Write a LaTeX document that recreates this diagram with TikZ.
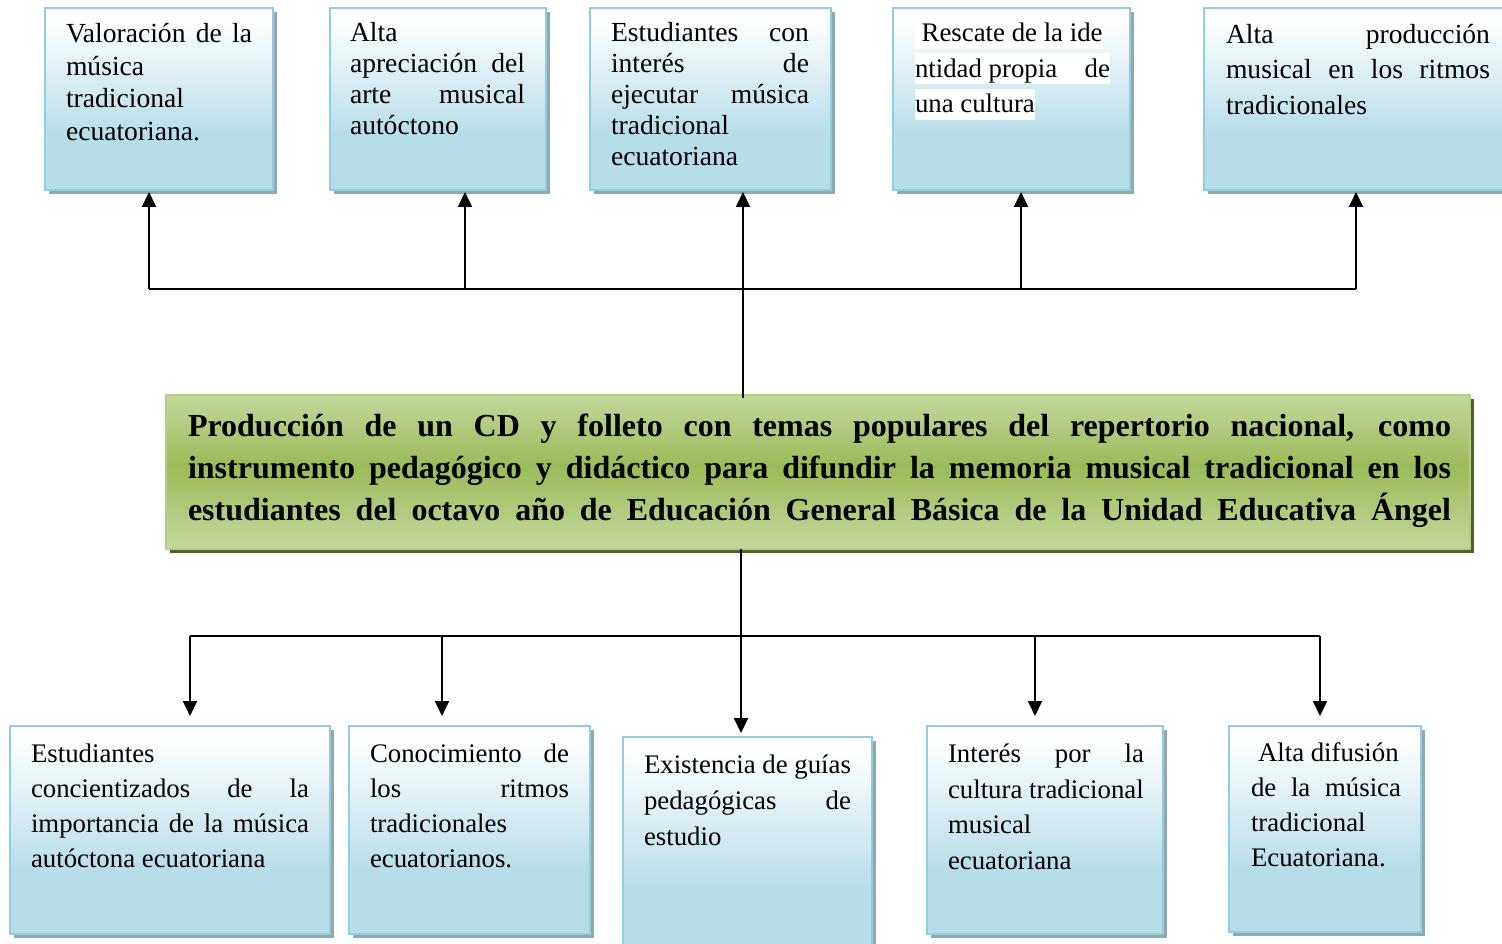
\documentclass[tikz,border=0pt]{standalone}
\usepackage{fontspec}
\setmainfont{Liberation Serif}
\usetikzlibrary{arrows.meta,shadows}
\definecolor{bxblue}{HTML}{B7DDE8}
\definecolor{bxborder}{HTML}{93CDDD}
\definecolor{bxshadow}{HTML}{8FA8B2}
\definecolor{glight}{HTML}{C4D79D}
\definecolor{gdark}{HTML}{9BBB59}
\definecolor{gborder}{HTML}{B5CD85}
\definecolor{gshadow}{HTML}{4F6228}
\pgfdeclareverticalshading{blueshade}{100bp}{color(0bp)=(bxblue); color(25bp)=(bxblue); color(40bp)=(bxblue); color(72bp)=(white); color(100bp)=(white)}
\pgfdeclareverticalshading{greenshade}{100bp}{color(0bp)=(glight); color(25bp)=(glight); color(52bp)=(gdark); color(75bp)=(glight); color(100bp)=(glight)}
\newcommand{\jl}[1]{\makebox[\linewidth][s]{\spaceskip=0pt\xspaceskip=0pt #1}}
\newcommand{\hlstrut}{\rule[-7pt]{0pt}{31pt}}
\setlength{\parindent}{0pt}
\begin{document}
\begin{tikzpicture}[x=1pt,y=-1pt,
  bluebox/.style={draw=bxborder, line width=1.6pt, shade, shading=blueshade,
    drop shadow={shadow xshift=3.5pt, shadow yshift=-4pt, fill=bxshadow, opacity=1},
    inner sep=0pt, outer sep=0pt},
  greenbox/.style={draw=gborder, line width=1.6pt, shade, shading=greenshade,
    drop shadow={shadow xshift=3.5pt, shadow yshift=-4pt, fill=gshadow, opacity=1},
    inner sep=0pt, outer sep=0pt},
  txt/.style={anchor=base west, inner sep=0pt, outer sep=0pt, align=left, text=black,
    execute at begin node={\spaceskip=0pt\xspaceskip=0pt}},
  conn/.style={line width=2pt, draw=black},
  arr/.style={conn, -{Triangle[length=15pt,width=14pt]}}
]
\useasboundingbox (0,0) rectangle (1502,944);

% top boxes
\node[bluebox, minimum width=228pt, minimum height=182pt] (T1) at (159,99) {};
\node[bluebox, minimum width=216pt, minimum height=182pt] (T2) at (438,99) {};
\node[bluebox, minimum width=241pt, minimum height=182pt] (T3) at (710.5,99) {};
\node[bluebox, minimum width=237pt, minimum height=182pt] (T4) at (1011.5,99) {};
\node[bluebox, minimum width=306pt, minimum height=182pt] (T5) at (1357,99) {};

% central box
\node[greenbox, minimum width=1304pt, minimum height=154pt] (C) at (818,472) {};

% bottom boxes
\node[bluebox, minimum width=320pt, minimum height=208pt] (B1) at (170,830) {};
\node[bluebox, minimum width=241pt, minimum height=208pt] (B2) at (469.5,830) {};
\node[bluebox, minimum width=249pt, minimum height=218pt] (B3) at (747.5,846) {};
\node[bluebox, minimum width=236pt, minimum height=208pt] (B4) at (1045,830) {};
\node[bluebox, minimum width=192pt, minimum height=206pt] (B5) at (1325,829) {};

% texts top
\node[txt, text width=186pt, font={\fontsize{27.6}{32.5}\selectfont}] (t1) at (66,43)
  {\jl{Valoración de la}\\música\\tradicional\\ecuatoriana.};
\node[txt, text width=175pt, font={\fontsize{27.6}{31}\selectfont}] (t2) at (350,41.5)
  {Alta\\\jl{apreciación del}\\\jl{arte musical}\\autóctono};
\node[txt, text width=198pt, font={\fontsize{27.6}{31}\selectfont}] (t3) at (611,41.5)
  {\jl{Estudiantes con}\\\jl{interés de}\\\jl{ejecutar música}\\tradicional\\ecuatoriana};
\node[txt, text width=195pt, font={\fontsize{26.8}{35.5}\selectfont\setlength{\fboxsep}{0pt}}] (t4) at (915,42)
  {\colorbox{white}{\hlstrut\ Rescate de la ide}\\
   \colorbox{white}{\makebox[\linewidth][l]{\hlstrut ntidad propia\hfill de}}\\
   \colorbox{white}{\hlstrut una cultura}};
\node[txt, text width=264pt, font={\fontsize{27.6}{35.5}\selectfont}] (t5) at (1226,43.5)
  {\jl{Alta producción}\\\jl{musical en los ritmos}\\tradicionales};

% central text
\node[txt, text width=1263pt, font={\fontsize{32}{42}\selectfont\bfseries}] (ct) at (188,436.5)
  {\jl{Producción de un CD y folleto con temas populares del repertorio nacional, como}\\
   \jl{instrumento pedagógico y didáctico para difundir la memoria musical tradicional en los}\\
   \jl{estudiantes del octavo año de Educación General Básica de la Unidad Educativa Ángel}};

% texts bottom
\node[txt, text width=278pt, font={\fontsize{26.8}{35}\selectfont}] (b1) at (31,762)
  {Estudiantes\\\jl{concientizados de la}\\\jl{importancia de la música}\\autóctona ecuatoriana};
\node[txt, text width=199pt, font={\fontsize{26.8}{35}\selectfont}] (b2) at (370,762)
  {\jl{Conocimiento de}\\\jl{los ritmos}\\tradicionales\\ecuatorianos.};
\node[txt, text width=207pt, font={\fontsize{26.8}{36}\selectfont}] (b3) at (644,773)
  {\mbox{Existencia de guías}\\\jl{pedagógicas de}\\estudio};
\node[txt, text width=196pt, font={\fontsize{26.8}{35.7}\selectfont}] (b4) at (948,762.5)
  {\jl{Interés por la}\\\mbox{cultura tradicional}\\musical\\ecuatoriana};
\node[txt, text width=150pt, font={\fontsize{26.8}{35}\selectfont}] (b5) at (1251,761.5)
  {\hspace*{7pt}Alta difusión\\\jl{de la música}\\tradicional\\Ecuatoriana.};

% top connectors
\coordinate (a1) at (149,289);
\coordinate (a2) at (465,289);
\coordinate (a3) at (743,289);
\coordinate (a4) at (1021,289);
\coordinate (a5) at (1356,289);
\draw[conn] (a1) -- (a5);
\draw[arr, shorten >=2pt] (a1) -- (a1 |- T1.south);
\draw[arr, shorten >=2pt] (a2) -- (a2 |- T2.south);
\draw[arr, shorten >=2pt] (a4) -- (a4 |- T4.south);
\draw[arr, shorten >=2pt] (a5) -- (a5 |- T5.south);
\draw[arr, shorten >=2pt, shorten <=-3pt] (a3 |- C.north) -- (a3 |- T3.south);

% bottom connectors
\coordinate (d1) at (190,636);
\coordinate (d2) at (442,636);
\coordinate (d3) at (741,636);
\coordinate (d4) at (1035,636);
\coordinate (d5) at (1320,636);
\draw[conn] (d1) -- (d5);
\draw[arr, shorten >=4pt] (C.south -| d3) -- (B3.north -| d3);
\draw[arr, shorten >=10pt] (d1) -- (d1 |- B1.north);
\draw[arr, shorten >=10pt] (d2) -- (d2 |- B2.north);
\draw[arr, shorten >=10pt] (d4) -- (d4 |- B4.north);
\draw[arr, shorten >=10pt] (d5) -- (d5 |- B5.north);
\end{tikzpicture}
\end{document}
